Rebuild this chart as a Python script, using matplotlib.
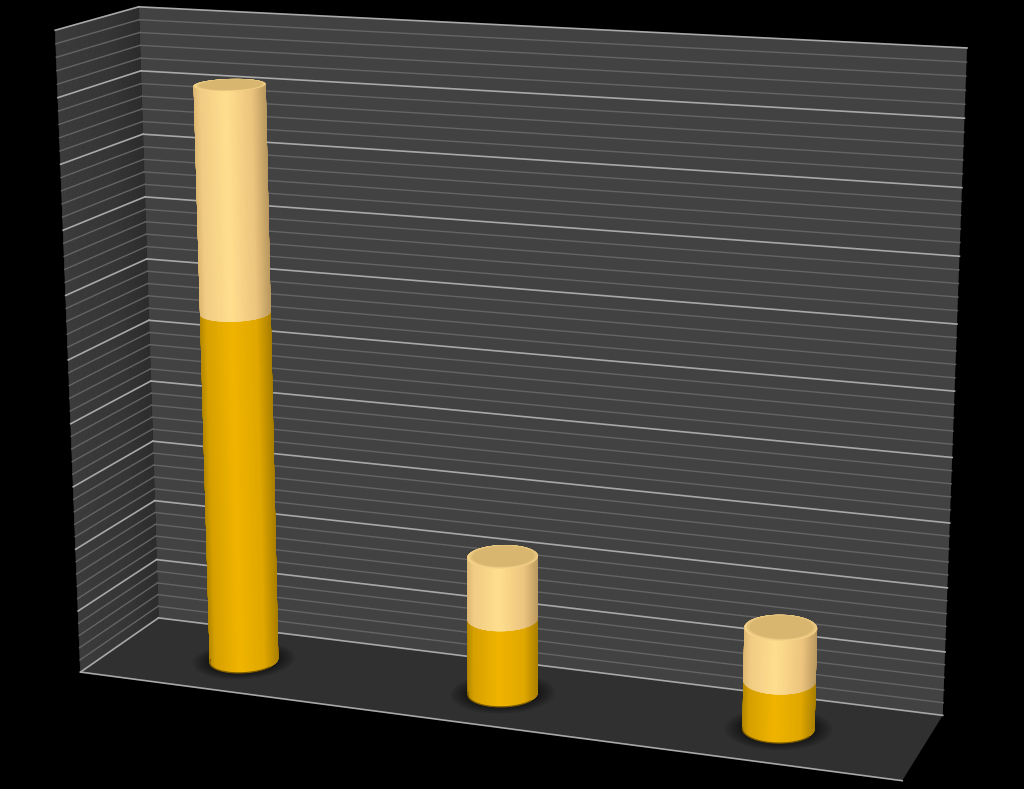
import numpy as np
import matplotlib
matplotlib.use("Agg")
import matplotlib.pyplot as plt
from matplotlib.collections import PolyCollection
from matplotlib.colors import to_rgb
from matplotlib.patches import Polygon

# data (axis runs 0-100)
categories = [1 / 6, 1 / 2, 5 / 6]
lower = [56, 12, 7.5]
upper = [35, 9.8, 8.2]
major_ticks = [0, 10, 20, 30, 40, 50, 60, 70, 80, 90, 100]
minor_ticks = [v for v in range(0, 101, 2) if v % 10 != 0]

# box corners world (x, value, depth) -> picture pixels, used to fit the camera
box_world = [(0, 0, 0), (1, 0, 0), (0, 100, 0), (1, 100, 0), (0, 0, 1), (1, 0, 1), (0, 100, 1)]
box_pixels = [(158, 618), (943, 715), (139, 7), (967, 48), (81, 672), (902, 781), (55, 30)]

RX = 0.0405
RZ = 0.215

rows = []
for (X, Y, Z), (u, v) in zip(box_world, box_pixels):
    rows.append([X, Y, Z, 1, 0, 0, 0, 0, -u * X, -u * Y, -u * Z, -u])
    rows.append([0, 0, 0, 0, X, Y, Z, 1, -v * X, -v * Y, -v * Z, -v])
rows = np.array(rows, dtype=float)
# scale value axis so the fit is not dominated by it
scale = np.diag([1, 0.01, 1, 1, 1, 0.01, 1, 1, 1, 0.01, 1, 1.0])
P = (scale @ np.linalg.svd(rows @ scale)[2][-1]).reshape(3, 4)


def proj(x, y, z):
    x, y, z = np.broadcast_arrays(np.asarray(x, float), np.asarray(y, float), np.asarray(z, float))
    w = P[2, 0] * x + P[2, 1] * y + P[2, 2] * z + P[2, 3]
    u = (P[0, 0] * x + P[0, 1] * y + P[0, 2] * z + P[0, 3]) / w
    v = (P[1, 0] * x + P[1, 1] * y + P[1, 2] * z + P[1, 3]) / w
    return np.column_stack([u, v])


def ramp(stops, f):
    pos = [s[0] for s in stops]
    cols = np.array([to_rgb(s[1]) for s in stops])
    return np.column_stack([np.interp(f, pos, cols[:, i]) for i in range(3)])


def hull(points):
    pts = sorted(map(tuple, points))

    def chain(seq):
        out = []
        for p in seq:
            while len(out) > 1 and ((out[-1][0] - out[-2][0]) * (p[1] - out[-2][1])
                                    - (out[-1][1] - out[-2][1]) * (p[0] - out[-2][0])) <= 0:
                out.pop()
            out.append(p)
        return out[:-1]

    return np.array(chain(pts) + chain(pts[::-1]))


lower_shade = [(0, "#b08500"), (0.1, "#d6a000"), (0.45, "#f0b400"), (0.8, "#dfa700"), (1, "#a87e00")]
upper_shade = [(0, "#dcb670"), (0.1, "#f0cb84"), (0.45, "#ffdf8e"), (0.8, "#ecc47e"), (1, "#b8975e")]

fig = plt.figure(figsize=(10.24, 7.89), dpi=100, facecolor="black")
ax = fig.add_axes([0, 0, 1, 1])
ax.set_xlim(0, 1024)
ax.set_ylim(789, 0)
ax.axis("off")

# walls and floor
ax.fill(*proj([0, 1, 1, 0], [0, 0, 100, 100], 0).T, color="#424242", lw=0, zorder=1)
zs = np.linspace(0, 1, 41)
left = [proj(0, [0, 100, 100, 0], [a, a, b, b]) for a, b in zip(zs[:-1], zs[1:])]
ax.add_collection(PolyCollection(left, facecolors=ramp([(0, "#2d2d2d"), (0.35, "#363636"), (1, "#3c3c3c")], zs[:-1]),
                                 edgecolors="face", linewidths=0.5, zorder=1))
ax.fill(*proj([0, 1, 1, 0], 0, [0, 0, 1, 1]).T, color="#303030", lw=0, zorder=2)

# gridlines
for v in minor_ticks:
    ax.plot(*proj([0, 1], v, 0).T, color="#646464", lw=1.0, zorder=3)
    ax.plot(*proj(0, v, [1, 0]).T, color="#646464", lw=1.0, zorder=3)
for v in major_ticks:
    ax.plot(*proj([0, 1], v, 0).T, color="#a8a8a8", lw=1.2, zorder=3)
    ax.plot(*proj(0, v, [1, 0]).T, color="#a8a8a8", lw=1.2, zorder=3)
ax.plot(*proj([0, 1], 0, 1).T, color="#a8a8a8", lw=1.2, zorder=3)

t = np.linspace(0, 2 * np.pi, 241)


def circle(x, y, k=1.0, dz=0.0):
    return proj(x + k * RX * np.cos(t), y, 0.5 + dz + k * RZ * np.sin(t))


def side(x, y0, y1, stops, zorder):
    a = circle(x, y0)
    b = circle(x, y1)
    clip = Polygon(hull(np.vstack([a, b])), closed=True, facecolor=stops[2][1], edgecolor="none", zorder=zorder)
    ax.add_patch(clip)
    # shade by position across the picture, strips go back to front
    f = (a[:-1, 0] - a[:, 0].min()) / (a[:, 0].max() - a[:, 0].min())
    order = np.argsort(a[:-1, 1])
    quads = [np.array([a[i], a[i + 1], b[i + 1], b[i]]) for i in order]
    strips = PolyCollection(quads, facecolors=ramp(stops, f[order]), edgecolors="face", linewidths=1.0, zorder=zorder)
    ax.add_collection(strips)
    strips.set_clip_path(clip)


for x, lo, up in zip(categories, lower, upper):
    # soft floor shadow
    for k in np.linspace(1.5, 1.05, 12):
        ax.fill(*circle(x, 0, k).T, color="black", alpha=0.045, lw=0, zorder=4)
    side(x, 0, lo, lower_shade, 5)
    side(x, lo, lo + up, upper_shade, 6)
    # dark rim along the foot of the cylinder
    foot = circle(x, 0)
    front = np.sin(t) > 0.25
    ax.plot(*foot[front].T, color="#7a5a00", lw=0.9, zorder=6)
    # cap with a lighter bevel on the front
    top = lo + up
    ax.fill(*circle(x, top).T, color="#f4d288", lw=0, zorder=7)
    ax.fill(*circle(x, top, 0.95, -0.012).T, color="#e4c27a", lw=0, zorder=8)
    ax.fill(*circle(x, top, 0.88, -0.012).T, color="#d9b66f", lw=0, zorder=9)

fig.savefig("out.png", dpi=100, facecolor="black")
